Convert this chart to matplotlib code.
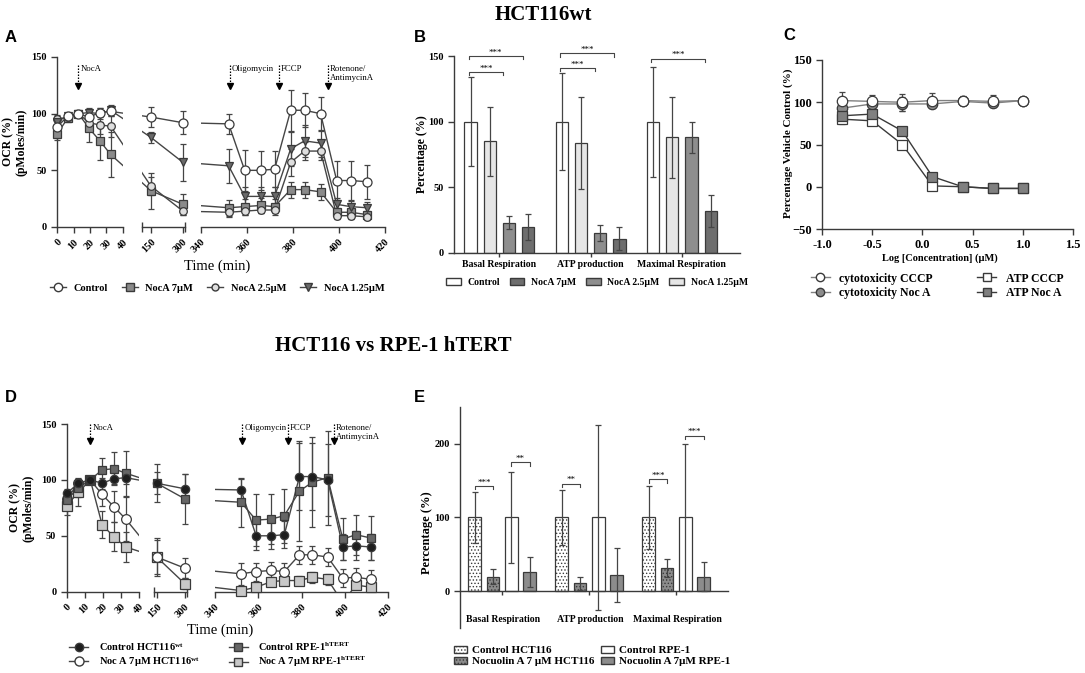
import matplotlib
matplotlib.use('Agg')
import matplotlib.pyplot as plt
from matplotlib.lines import Line2D
from matplotlib.patches import Patch

# ---------------- data ----------------
times = [0, 6.5, 13, 19.5, 26, 32.5, 150, 300,
         352, 359, 366, 372, 379, 385, 392, 399, 405, 412]

# Panel A (HCT116wt OCR)
A_control = [88, 98, 100, 97, 101, 102, 97, 92, 91, 50, 50, 51, 103, 103, 100, 41, 41, 40]
A_control_err = [5, 3, 0, 3, 4, 4, 9, 10, 9, 18, 17, 16, 18, 15, 15, 17, 17, 15]
A_noca7 = [82, 96, 100, 87, 76, 64, 32, 20, 17, 18, 19, 18, 33, 33, 31, 13, 13, 11]
A_noca7_err = [5, 3, 0, 12, 17, 20, 16, 9, 7, 7, 7, 7, 7, 7, 7, 4, 4, 3]
A_noca25 = [95, 97, 100, 92, 90, 89, 36, 14, 13, 14, 15, 15, 57, 67, 67, 10, 10, 9]
A_noca25_err = [4, 3, 0, 5, 8, 10, 8, 3, 4, 3, 3, 3, 12, 8, 8, 3, 3, 3]
A_noca125 = [93, 98, 100, 101, 100, 103, 79, 57, 54, 27, 27, 27, 69, 76, 74, 20, 18, 17]
A_noca125_err = [5, 3, 0, 4, 5, 5, 5, 16, 15, 8, 8, 8, 15, 14, 12, 6, 5, 5]
A_labels = ['Control', 'NocA 7μM', 'NocA 2.5μM', 'NocA 1.25μM']

# Panel B
B_groups = ['Basal Respiration', 'ATP production', 'Maximal Respiration']
B_control = [100, 100, 100]
B_control_err = [34, 37, 42]
B_noca125 = [85, 84, 88]
B_noca125_err = [26, 35, 31]
B_noca25 = [23, 15, 88]
B_noca25_err = [5, 6, 12]
B_noca7 = [20, 11, 32]
B_noca7_err = [10, 9, 12]
B_labels = ['Control', 'NocA 7μM', 'NocA 2.5μM', 'NocA 1.25μM']
# (group, bar_from, bar_to, height, text)
B_sig = [(0, 0, 2, 138, '***'), (0, 0, 3, 150, '***'),
         (1, 0, 2, 141, '***'), (1, 0, 3, 152, '***'),
         (2, 0, 3, 148, '***')]

# Panel C
C_logc = [-0.8, -0.5, -0.2, 0.1, 0.4, 0.7, 1.0]
C_cyto_cccp = [102, 101, 100, 102, 102, 101, 102]
C_cyto_cccp_err = [10, 7, 10, 9, 5, 7, 2]
C_cyto_noca = [93, 98, 98, 98, 101, 99, 102]
C_cyto_noca_err = [5, 4, 8, 4, 4, 5, 2]
C_atp_cccp = [80, 78, 50, 1, 0, -2, -2]
C_atp_cccp_err = [6, 5, 4, 2, 2, 2, 2]
C_atp_noca = [84, 86, 66, 12, 0, -2, -2]
C_atp_noca_err = [5, 3, 3, 3, 2, 2, 2]
C_labels = ['cytotoxicity CCCP', 'cytotoxicity Noc A', 'ATP CCCP', 'ATP Noc A']

# Panel D
D_ctrl_hct = [88, 97, 100, 97, 101, 102, 97, 92, 91, 50, 50, 51, 103, 103, 100, 40, 41, 40]
D_ctrl_hct_err = [4, 4, 0, 5, 5, 6, 10, 13, 10, 13, 12, 12, 30, 30, 32, 12, 13, 12]
D_ctrl_rpe = [82, 93, 100, 109, 110, 106, 97, 83, 80, 64, 65, 68, 90, 98, 102, 47, 51, 48]
D_ctrl_rpe_err = [6, 8, 0, 11, 15, 20, 17, 22, 22, 23, 22, 24, 45, 40, 42, 19, 18, 20]
D_noc_hct = [83, 97, 100, 87, 76, 65, 31, 21, 16, 18, 19, 18, 33, 33, 31, 12, 13, 11]
D_noc_hct_err = [5, 5, 0, 10, 14, 20, 17, 9, 10, 8, 8, 8, 8, 8, 8, 8, 8, 8]
D_noc_rpe = [77, 89, 100, 60, 49, 40, 31, 7, 1, 4, 9, 10, 10, 13, 11, -10, 6, 4]
D_noc_rpe_err = [8, 12, 0, 12, 13, 13, 15, 5, 2, 3, 4, 4, 4, 5, 5, 2, 3, 3]
D_labels = ['Control HCT116$^{\\mathbf{wt}}$', 'Noc A 7μM HCT116$^{\\mathbf{wt}}$',
            'Control RPE-1$^{\\mathbf{hTERT}}$', 'Noc A 7μM RPE-1$^{\\mathbf{hTERT}}$']

# Panel E
E_groups = ['Basal Respiration', 'ATP production', 'Maximal Respiration']
E_ctrl_hct = [100, 100, 100]
E_ctrl_hct_err = [34, 37, 42]
E_noc_hct = [20, 11, 32]
E_noc_hct_err = [10, 9, 12]
E_ctrl_rpe = [100, 100, 100]
E_ctrl_rpe_err = [62, 125, 100]
E_noc_rpe = [26, 22, 20]
E_noc_rpe_err = [20, 37, 20]
E_labels = ['Control HCT116', 'Nocuolin A 7 μM HCT116', 'Control RPE-1', 'Nocuolin A 7μM RPE-1']
E_sig = [(0, 0, 1, 143, '***'), (0, 2, 3, 175, '**'), (1, 0, 1, 146, '**'),
         (2, 0, 1, 152, '***'), (2, 2, 3, 211, '***')]

injections = [(13, 'NocA'), (352.6, 'Oligomycin'), (373.8, 'FCCP'), (395, 'Rotenone/\nAntimycinA')]

# ---------------- style ----------------
plt.rcParams['font.family'] = ['Liberation Serif', 'DejaVu Serif']
plt.rcParams['font.weight'] = 'bold'
plt.rcParams['mathtext.fontset'] = 'custom'
plt.rcParams['mathtext.rm'] = 'Liberation Serif:bold'
plt.rcParams['mathtext.bf'] = 'Liberation Serif:bold'
plt.rcParams['mathtext.it'] = 'Liberation Serif:italic'
plt.rcParams['hatch.linewidth'] = 0.6

AXC = '#3a3a3a'
LINE = '#454545'
W, H = 1085, 673
fig = plt.figure(figsize=(W / 100, H / 100), dpi=100)


def add_ax(x0, y0, x1, y1):
    return fig.add_axes([x0 / W, 1 - y1 / H, (x1 - x0) / W, (y1 - y0) / H])


def style(ax, fs=7.5):
    for s in ['top', 'right']:
        ax.spines[s].set_visible(False)
    for s in ['left', 'bottom']:
        ax.spines[s].set_color(AXC)
        ax.spines[s].set_linewidth(1.0)
    ax.tick_params(colors=AXC, width=1.0, length=4, labelcolor='black', labelsize=fs)
    ax.patch.set_alpha(0)


def ftext(x, y, s, **kw):
    fig.text(x / W, 1 - y / H, s, **kw)


def broken_panel(segs, ytop, ybot, series, arrow_y, yticks, fs):
    def tmap(t):
        for s in segs:
            if s['t0'] - 1e-6 <= t <= s['t1'] + 1e-6:
                return s['p0'] + (t - s['t0']) * (s['p1'] - s['p0']) / (s['t1'] - s['t0'])
        return None
    xs = [tmap(t) for t in times]
    axes = []
    for i, s in enumerate(segs):
        ax = add_ax(s['px0'], ytop, s['px1'], ybot)
        style(ax, fs)
        ax.set_xlim(s['px0'], s['px1'])
        ax.set_ylim(0, 150)
        if i > 0:
            ax.spines['left'].set_visible(False)
            ax.set_yticks([])
        else:
            ax.set_yticks(yticks)
            ax.set_yticklabels([str(v) for v in yticks])
        ax.set_xticks([tmap(t) for t in s['ticks']])
        ax.set_xticklabels([str(t) for t in s['ticks']])
        for lb in ax.get_xticklabels():
            lb.set_rotation(45)
            lb.set_ha('right')
            lb.set_rotation_mode('anchor')
        if s['caps']:
            ax.set_xticks(s['caps'], minor=True)
            ax.tick_params(axis='x', which='minor', direction='inout', length=7, width=1.0, colors=AXC)
        for ser in series:
            ax.plot(xs, ser['y'], '-', color=LINE, lw=1.0, zorder=2)
            idx = [k for k, t in enumerate(times)
                   if s['t0'] - 1e-6 <= t <= s['t1'] + 1e-6 and ser['y'][k] >= 0]
            px = [xs[k] for k in idx]
            py = [ser['y'][k] for k in idx]
            pe = [ser['e'][k] for k in idx]
            eb = ax.errorbar(px, py, yerr=pe, fmt='none', ecolor=LINE, elinewidth=0.9,
                             capsize=2, capthick=0.9, zorder=3)
            for a in list(eb.lines[1]) + list(eb.lines[2]):
                a.set_clip_on(False)
            ax.plot(px, py, linestyle='none', marker=ser['m'], ms=ser['ms'], mfc=ser['fc'],
                    mec=AXC, mew=0.9, clip_on=False, zorder=4)
        axes.append(ax)
    # injection arrows
    for t, lab in injections:
        x = tmap(t)
        for s, ax in zip(segs, axes):
            if s['px0'] <= x <= s['px1']:
                yh, yl = arrow_y
                ax.plot([x, x], [yh, yl + 3], color='black', lw=0.9, ls=(0, (1.2, 1.2)),
                        clip_on=False, zorder=5)
                ax.plot([x], [yl + 2], marker='v', color='black', ms=4, clip_on=False, zorder=5)
                ax.text(x + 2, yh, lab, ha='left', va='top', fontsize=6.3, weight='normal',
                        linespacing=1.2, clip_on=False)
    return axes


# ---------------- titles & letters ----------------
ftext(543, 15, 'HCT116wt', ha='center', va='center', fontsize=15, weight='bold')
ftext(393, 346, 'HCT116 vs RPE-1 hTERT', ha='center', va='center', fontsize=15, weight='bold')
for lt, (x, y) in zip('ABCDE', [(11, 37), (420, 37), (789, 36), (11, 398), (419, 398)]):
    ftext(x, y, lt, ha='center', va='center', fontsize=12, weight='bold',
          family=['Liberation Sans', 'DejaVu Sans'])

# ---------------- Panel A ----------------
segsA = [dict(t0=0, t1=40, p0=57, p1=123, px0=57, px1=123, ticks=[0, 10, 20, 30, 40], caps=[]),
         dict(t0=150, t1=300, p0=151, p1=183, px0=142, px1=185, ticks=[150, 300], caps=[142, 185]),
         dict(t0=340, t1=420, p0=201, p1=385, px0=201, px1=385, ticks=[340, 360, 380, 400, 420], caps=[201, 385])]
serA = [dict(y=A_noca7, e=A_noca7_err, m='s', ms=6, fc='#8a8a8a'),
        dict(y=A_noca25, e=A_noca25_err, m='o', ms=5.5, fc='#dedede'),
        dict(y=A_noca125, e=A_noca125_err, m='v', ms=6, fc='#6a6a6a'),
        dict(y=A_control, e=A_control_err, m='o', ms=6.5, fc='white')]
broken_panel(segsA, 57, 227, serA, (143, 122), [0, 50, 100, 150], 7.5)
ftext(217, 266, 'Time (min)', ha='center', va='center', fontsize=10.5, weight='normal')
ftext(15, 142, 'OCR (%)\n(pMoles/min)', ha='center', va='center', rotation=90, fontsize=8.5,
      weight='bold', linespacing=1.1)
hA = [Line2D([], [], color=LINE, lw=1, marker='o', ms=6, mfc='white', mec=AXC),
      Line2D([], [], color=LINE, lw=1, marker='s', ms=5.5, mfc='#8a8a8a', mec=AXC),
      Line2D([], [], color=LINE, lw=1, marker='o', ms=5, mfc='#dedede', mec=AXC),
      Line2D([], [], color=LINE, lw=1, marker='v', ms=5.5, mfc='#6a6a6a', mec=AXC)]
fig.legend(hA, A_labels, loc='center', bbox_to_anchor=(217 / W, 1 - 288 / H), ncol=4,
           frameon=False, fontsize=7.5, handlelength=1.6, columnspacing=1.3, handletextpad=0.7)

# ---------------- Panel B ----------------
axB = add_ax(454, 56, 740, 253)
style(axB, 7.5)
offs = [-0.315, -0.105, 0.105, 0.315]
bw = 0.135
B_series = [(B_control, B_control_err, 'white'), (B_noca125, B_noca125_err, '#e6e6e6'),
            (B_noca25, B_noca25_err, '#8e8e8e'), (B_noca7, B_noca7_err, '#6e6e6e')]
for j, (vals, errs, col) in enumerate(B_series):
    xs = [g + offs[j] for g in range(len(B_groups))]
    axB.bar(xs, vals, width=bw, color=col, edgecolor=AXC, linewidth=0.9, zorder=2)
    axB.errorbar(xs, vals, yerr=errs, fmt='none', ecolor=LINE, elinewidth=0.9, capsize=2.5,
                 capthick=0.9, zorder=3)
axB.set_xlim(-0.496, 2.636)
axB.set_ylim(0, 150)
axB.set_yticks([0, 50, 100, 150])
axB.set_xticks(range(len(B_groups)))
axB.set_xticklabels(B_groups, fontsize=7)
axB.tick_params(axis='x', length=3, pad=2)


def bracket(ax, x1, x2, y, txt, dy):
    ax.plot([x1, x1, x2, x2], [y - dy, y, y, y - dy], color=LINE, lw=0.8, clip_on=False)
    ax.text((x1 + x2) / 2, y - dy * 0.2, txt, ha='center', va='bottom', fontsize=6.5,
            weight='normal', clip_on=False)


for g, a, b, y, t in B_sig:
    bracket(axB, g + offs[a] - 0.02, g + offs[b] - 0.06, y, t, 2.5)
ftext(422, 154, 'Percentage (%)', ha='center', va='center', rotation=90, fontsize=8.5)
hB = [Patch(facecolor='white', edgecolor=AXC), Patch(facecolor='#6e6e6e', edgecolor=AXC),
      Patch(facecolor='#8e8e8e', edgecolor=AXC), Patch(facecolor='#e6e6e6', edgecolor=AXC)]
fig.legend(hB, B_labels, loc='center', bbox_to_anchor=(597 / W, 1 - 282 / H), ncol=4,
           frameon=False, fontsize=7, handlelength=1.5, handleheight=0.7,
           columnspacing=1.0, handletextpad=0.7)

# ---------------- Panel C ----------------
axC = add_ax(822, 60, 1073, 229)
style(axC, 9)
C_series = [(C_cyto_noca, C_cyto_noca_err, 'o', '#8c8c8c', '#808080'),
            (C_cyto_cccp, C_cyto_cccp_err, 'o', 'white', '#808080'),
            (C_atp_cccp, C_atp_cccp_err, 's', 'white', AXC),
            (C_atp_noca, C_atp_noca_err, 's', '#808080', AXC)]
for vals, errs, m, fc, lc in C_series:
    axC.errorbar(C_logc, vals, yerr=errs, fmt='-', color=lc, lw=1.0, ecolor=LINE, elinewidth=0.9,
                 capsize=2.5, capthick=0.9, marker=m, ms=7.5, mfc=fc, mec=AXC, mew=0.9, zorder=3)
axC.set_xlim(-1.0, 1.5)
axC.set_ylim(-50, 150)
axC.set_xticks([-1.0, -0.5, 0.0, 0.5, 1.0, 1.5])
axC.set_xticklabels(['-1.0', '-0.5', '0.0', '0.5', '1.0', '1.5'])
axC.set_yticks([-50, 0, 50, 100, 150])
ftext(940, 258, 'Log [Concentration] (μM)', ha='center', va='center', fontsize=7.5)
ftext(788, 143, 'Percentage Vehicle Control (%)', ha='center', va='center', rotation=90,
      fontsize=8)
hC = [Line2D([], [], color='#808080', lw=1, marker='o', ms=6, mfc='white', mec=AXC),
      Line2D([], [], color='#808080', lw=1, marker='o', ms=6, mfc='#8c8c8c', mec=AXC),
      Line2D([], [], color=AXC, lw=1, marker='s', ms=5.5, mfc='white', mec=AXC),
      Line2D([], [], color=AXC, lw=1, marker='s', ms=5.5, mfc='#808080', mec=AXC)]
fig.legend(hC, C_labels, loc='center', bbox_to_anchor=(937 / W, 1 - 286 / H), ncol=2,
           frameon=False, fontsize=8.5, handlelength=1.6, columnspacing=3.8, handletextpad=0.8,
           labelspacing=0.25)

# ---------------- Panel D ----------------
segsD = [dict(t0=0, t1=40, p0=66.7, p1=139.3, px0=66.7, px1=139.3, ticks=[0, 10, 20, 30, 40], caps=[]),
         dict(t0=150, t1=300, p0=156.7, p1=185, px0=154, px1=187, ticks=[150, 300], caps=[154, 187]),
         dict(t0=340, t1=420, p0=215, p1=388.3, px0=215, px1=388.3, ticks=[340, 360, 380, 400, 420], caps=[215, 388.3])]
serD = [dict(y=D_noc_rpe, e=D_noc_rpe_err, m='s', ms=6.5, fc='#c8c8c8'),
        dict(y=D_noc_hct, e=D_noc_hct_err, m='o', ms=7, fc='white'),
        dict(y=D_ctrl_rpe, e=D_ctrl_rpe_err, m='s', ms=6, fc='#666666'),
        dict(y=D_ctrl_hct, e=D_ctrl_hct_err, m='o', ms=6, fc='#1e1e1e')]
broken_panel(segsD, 424, 591.7, serD, (150, 133), [0, 50, 100, 150], 7.5)
ftext(220, 630, 'Time (min)', ha='center', va='center', fontsize=10.5, weight='normal')
ftext(22, 508, 'OCR (%)\n(pMoles/min)', ha='center', va='center', rotation=90, fontsize=8.5,
      weight='bold', linespacing=1.1)
hD = [Line2D([], [], color=LINE, lw=1, marker='o', ms=6, mfc='#1e1e1e', mec=AXC),
      Line2D([], [], color=LINE, lw=1, marker='o', ms=6.5, mfc='white', mec=AXC),
      Line2D([], [], color=LINE, lw=1, marker='s', ms=6, mfc='#666666', mec=AXC),
      Line2D([], [], color=LINE, lw=1, marker='s', ms=6, mfc='#c8c8c8', mec=AXC)]
fig.legend(hD, D_labels, loc='center', bbox_to_anchor=(218 / W, 1 - 655 / H), ncol=2,
           frameon=False, fontsize=7.5, handlelength=1.8, columnspacing=2.8, handletextpad=1.0,
           labelspacing=0.2)

# ---------------- Panel E ----------------
axE = add_ax(460, 406.7, 728, 628.3)
style(axE, 7.5)
offsE = [-0.31, -0.10, 0.11, 0.32]
bwE = 0.146
E_series = [(E_ctrl_hct, E_ctrl_hct_err, 'white', '.....'), (E_noc_hct, E_noc_hct_err, '#8c8c8c', '.....'),
            (E_ctrl_rpe, E_ctrl_rpe_err, 'white', None), (E_noc_rpe, E_noc_rpe_err, '#8c8c8c', None)]
for j, (vals, errs, col, hat) in enumerate(E_series):
    xs = [g + offsE[j] for g in range(len(E_groups))]
    axE.bar(xs, vals, width=bwE, color=col, edgecolor=AXC, linewidth=0.9, hatch=hat, zorder=2)
    axE.errorbar(xs, vals, yerr=errs, fmt='none', ecolor=LINE, elinewidth=0.9, capsize=2,
                 capthick=0.9, zorder=3)
axE.set_xlim(-0.479, 2.60)
axE.set_ylim(-50, 250)
axE.spines['bottom'].set_position(('data', 0))
axE.set_yticks([0, 100, 200])
axE.set_xticks(range(len(E_groups)))
axE.set_xticklabels([])
axE.tick_params(axis='x', length=3)
for g, lab in enumerate(E_groups):
    axE.text(g + 0.02, -38, lab, ha='center', va='center', fontsize=7)
for g, a, b, y, t in E_sig:
    bracket(axE, g + offsE[a], g + offsE[b], y, t, 5)
ftext(427, 533, 'Percentage (%)', ha='center', va='center', rotation=90, fontsize=9)
hE = [Patch(facecolor='white', edgecolor=AXC, hatch='.....'),
      Patch(facecolor='#8c8c8c', edgecolor=AXC, hatch='.....'),
      Patch(facecolor='white', edgecolor=AXC), Patch(facecolor='#8c8c8c', edgecolor=AXC)]
fig.legend(hE, E_labels, loc='center',
           bbox_to_anchor=(592 / W, 1 - 656 / H), ncol=2, frameon=False, fontsize=8,
           handlelength=1.2, handleheight=0.7, columnspacing=0.6, handletextpad=0.4,
           labelspacing=0.1)

fig.savefig('out.png', dpi=100)
